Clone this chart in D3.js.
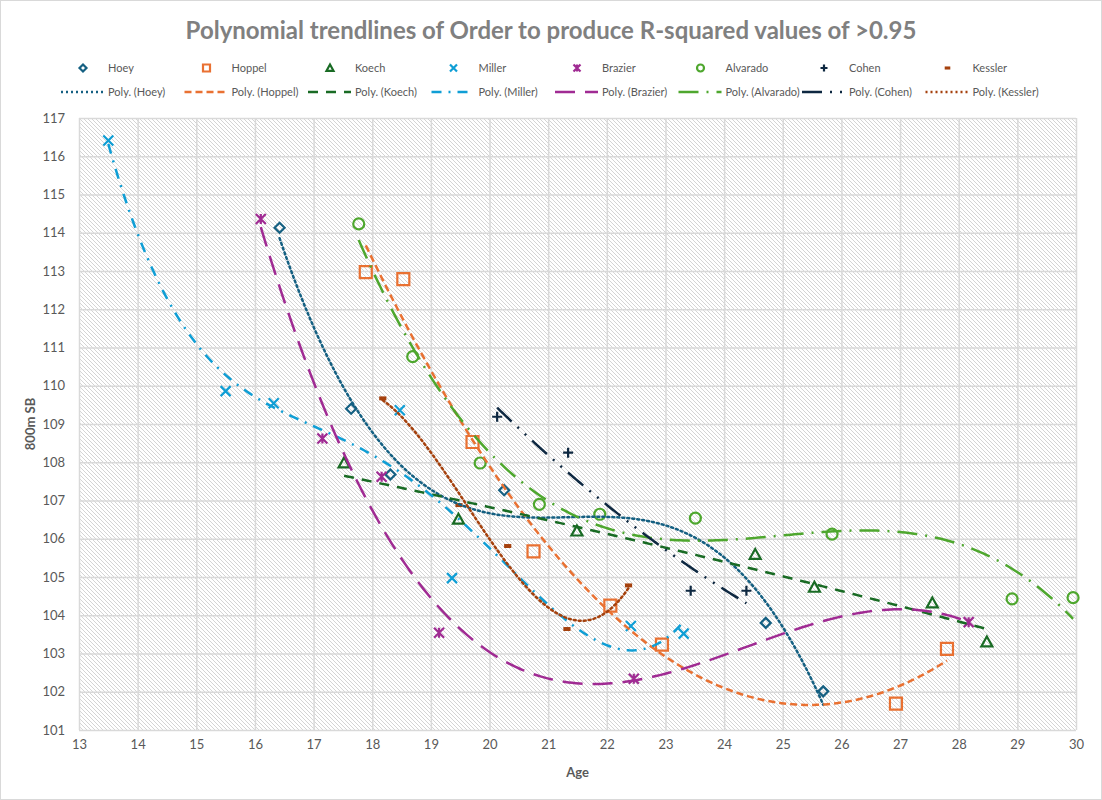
<!DOCTYPE html>
<html>
<head>
<meta charset="utf-8">
<script src="https://cdn.jsdelivr.net/npm/d3@7"></script>
<style>
  body { margin: 0; background: #fff; }
  text { font-family: Lato, "Open Sans", sans-serif; fill: #595959; }
</style>
</head>
<body>
<div id="chart-area"></div>
<script>
// Age vs 800m season best, one polynomial trendline per athlete

var athletes = ["Hoey", "Hoppel", "Koech", "Miller", "Brazier", "Alvarado", "Cohen", "Kessler"];

// [age, 800m SB]
var hoey = [[16.42, 114.13], [17.64, 109.40], [18.31, 107.68], [20.25, 107.27], [24.71, 103.80], [25.69, 102.01]];
var hoppel = [[17.89, 112.97], [18.53, 112.79], [19.71, 108.53], [20.75, 105.67], [22.06, 104.25], [22.94, 103.23], [26.93, 101.69], [27.80, 103.12]];
var koech = [[17.52, 107.98], [19.47, 106.51], [21.49, 106.20], [24.53, 105.59], [25.54, 104.73], [27.55, 104.32], [28.48, 103.30]];
var miller = [[13.50, 116.41], [15.50, 109.86], [16.32, 109.54], [18.47, 109.36], [19.36, 104.97], [22.41, 103.72], [23.31, 103.52]];
var brazier = [[16.10, 114.36], [17.15, 108.62], [18.16, 107.62], [19.14, 103.54], [22.46, 102.34], [28.17, 103.82]];
var alvarado = [[17.77, 114.23], [18.69, 110.76], [19.84, 107.98], [20.85, 106.90], [21.88, 106.64], [23.51, 106.54], [25.84, 106.12], [28.91, 104.43], [29.95, 104.46]];
var cohen = [[20.13, 109.19], [21.34, 108.25], [23.43, 104.64], [24.38, 104.64]];
var kessler = [[18.18, 109.67], [19.48, 106.88], [20.31, 105.81], [21.32, 103.64], [22.37, 104.78]];

var seriesData = [hoey, hoppel, koech, miller, brazier, alvarado, cohen, kessler];
var trendOrders = [3, 2, 2, 4, 3, 3, 2, 3];

var xTicks = d3.range(13, 31);
var yTicks = d3.range(101, 118);

var colors = ["#156082", "#E97132", "#196B24", "#0F9ED5", "#A02B93", "#4EA72E", "#0E2841", "#A5410D"];
var markers = ["diamond", "square", "triangle", "cross", "star", "circle", "plus", "dash"];
var dashes = ["2 3", "7 4", "10 8", "10 7 2 7", "20 10", "20 8 2 8", "20 8 2 8 2 8", "2 3"];

var W = 1102, H = 800;
var margin = {top: 118, left: 79, bottom: 70, right: 26};
var width = W - margin.left - margin.right,
    height = H - margin.top - margin.bottom;

var svg = d3.select("#chart-area")
    .append("svg")
        .attr("width", W)
        .attr("height", H);

svg.append("rect")
    .attr("x", 0.5).attr("y", 0.5)
    .attr("width", W - 1).attr("height", H - 1)
    .attr("fill", "#fff")
    .attr("stroke", "#D9D9D9");

// hatched plot background
var pat = svg.append("defs").append("pattern")
    .attr("id", "hatch")
    .attr("patternUnits", "userSpaceOnUse")
    .attr("width", 4).attr("height", 4);
pat.append("rect").attr("width", 4).attr("height", 4).attr("fill", "#fff");
pat.append("path")
    .attr("d", "M0,0 L4,4 M-1,3 L1,5 M3,-1 L5,1")
    .attr("stroke", "#C9C9C9")
    .attr("stroke-width", 0.8);

var g = svg.append("g")
    .attr("transform", "translate(" + margin.left + "," + margin.top + ")");

// Scales
var x = d3.scaleLinear().domain([13, 30]).range([0, width]);
var y = d3.scaleLinear().domain([101, 117]).range([height, 0]);

g.append("rect")
    .attr("width", width).attr("height", height)
    .attr("fill", "url(#hatch)");

// Gridlines
g.append("g")
    .attr("class", "grid")
    .call(d3.axisLeft(y).tickValues(yTicks).tickSize(-width).tickFormat(""))
    .call(s => s.select(".domain").remove())
    .selectAll("line").attr("stroke", "#D9D9D9").attr("stroke-width", 1.5);

g.append("g")
    .attr("class", "grid")
    .attr("transform", "translate(0," + height + ")")
    .call(d3.axisBottom(x).tickValues(xTicks).tickSize(-height).tickFormat(""))
    .call(s => s.select(".domain").remove())
    .selectAll("line").attr("stroke", "#D9D9D9").attr("stroke-width", 1.5);

// Axes labels
var yAxis = g.append("g")
    .call(d3.axisLeft(y).tickValues(yTicks).tickSize(0).tickPadding(14).tickFormat(d3.format("d")));
yAxis.select(".domain").remove();
yAxis.selectAll("text").attr("font-size", "13px").attr("fill", "#595959")
    .style("font-family", "Lato, sans-serif");

var xAxis = g.append("g")
    .attr("transform", "translate(0," + height + ")")
    .call(d3.axisBottom(x).tickValues(xTicks).tickSize(0).tickPadding(10).tickFormat(d3.format("d")));
xAxis.select(".domain").remove();
xAxis.selectAll("text").attr("font-size", "13px").attr("fill", "#595959")
    .style("font-family", "Lato, sans-serif");

svg.append("text")
    .attr("x", margin.left + width / 2)
    .attr("y", 777)
    .attr("text-anchor", "middle")
    .attr("font-size", "13px")
    .attr("font-weight", "bold")
    .text("Age");

svg.append("text")
    .attr("transform", "translate(35," + 424 + ") rotate(-90)")
    .attr("text-anchor", "middle")
    .attr("font-size", "13px")
    .attr("font-weight", "bold")
    .text("800m SB");

svg.append("text")
    .attr("x", 551)
    .attr("y", 39)
    .attr("text-anchor", "middle")
    .attr("font-size", "24px")
    .attr("font-weight", "bold")
    .style("fill", "#808080")
    .text("Polynomial trendlines of Order to produce R-squared values of >0.95");

// least squares polynomial trendline
function polyfit(pts, order) {
    var xm = d3.mean(pts, d => d[0]);
    var n = order + 1;
    var A = [], b = [];
    for (var i = 0; i < n; i++) {
        A.push(new Array(n).fill(0));
        b.push(0);
    }
    pts.forEach(p => {
        var t = p[0] - xm;
        for (var i = 0; i < n; i++) {
            for (var j = 0; j < n; j++) A[i][j] += Math.pow(t, i + j);
            b[i] += p[1] * Math.pow(t, i);
        }
    });
    // gaussian elimination
    for (var c = 0; c < n; c++) {
        var piv = c;
        for (var r = c + 1; r < n; r++) if (Math.abs(A[r][c]) > Math.abs(A[piv][c])) piv = r;
        [A[c], A[piv]] = [A[piv], A[c]];
        [b[c], b[piv]] = [b[piv], b[c]];
        for (var r = c + 1; r < n; r++) {
            var f = A[r][c] / A[c][c];
            for (var k = c; k < n; k++) A[r][k] -= f * A[c][k];
            b[r] -= f * b[c];
        }
    }
    var coef = new Array(n).fill(0);
    for (var r = n - 1; r >= 0; r--) {
        var s = b[r];
        for (var k = r + 1; k < n; k++) s -= A[r][k] * coef[k];
        coef[r] = s / A[r][r];
    }
    return function(xv) {
        var t = xv - xm, v = 0;
        for (var i = 0; i < n; i++) v += coef[i] * Math.pow(t, i);
        return v;
    };
}

function markerPath(type, s) {
    var h = s / 2;
    switch (type) {
        case "diamond": return "M0," + (-h) + "L" + h + ",0L0," + h + "L" + (-h) + ",0Z";
        case "square": return "M" + (-h) + "," + (-h) + "h" + s + "v" + s + "h" + (-s) + "Z";
        case "triangle": return "M0," + (-h) + "L" + h + "," + (h * 0.8) + "L" + (-h) + "," + (h * 0.8) + "Z";
        case "cross": return "M" + (-h) + "," + (-h) + "L" + h + "," + h + "M" + h + "," + (-h) + "L" + (-h) + "," + h;
        case "plus": return "M" + (-h) + ",0H" + h + "M0," + (-h) + "V" + h;
        case "star": return "M" + (-h) + "," + (-h) + "L" + h + "," + h + "M" + h + "," + (-h) + "L" + (-h) + "," + h + "M0," + (-h) + "V" + h;
        case "circle": return d3.symbol(d3.symbolCircle, Math.PI * h * h)();
    }
}

function drawMarker(sel, type, color, s) {
    if (type === "dash") {
        sel.append("rect")
            .attr("x", -s * 0.4).attr("y", -s * 0.22)
            .attr("width", s * 0.8).attr("height", s * 0.44)
            .attr("fill", color);
    } else {
        sel.append("path")
            .attr("d", markerPath(type, s))
            .attr("fill", "none")
            .attr("stroke", color)
            .attr("stroke-width", 2.2);
    }
}

var line = d3.line()
    .x(d => x(d[0]))
    .y(d => y(d[1]));

// markers then trendlines (Excel draws trendlines on top)
seriesData.forEach((pts, i) => {
    var sizes = {diamond: 10, square: 12, triangle: 11, cross: 10, star: 10, circle: 11, plus: 10, dash: 9};
    pts.forEach(p => {
        var m = g.append("g").attr("transform", "translate(" + x(p[0]) + "," + y(p[1]) + ")");
        drawMarker(m, markers[i], colors[i], sizes[markers[i]]);
    });
});

seriesData.forEach((pts, i) => {
    var f = polyfit(pts, trendOrders[i]);
    var ext = d3.extent(pts, d => d[0]);
    var samples = d3.range(0, 201).map(k => {
        var xv = ext[0] + (ext[1] - ext[0]) * k / 200;
        return [xv, f(xv)];
    });
    g.append("path")
        .datum(samples)
        .attr("d", line)
        .attr("fill", "none")
        .attr("stroke", colors[i])
        .attr("stroke-width", 2.5)
        .attr("stroke-dasharray", dashes[i])
        .attr("stroke-linecap", dashes[i] === "2 3" ? "round" : "butt");
});

// Legend
var legend = svg.append("g");
athletes.forEach((name, i) => {
    var lx = 61 + i * 123.5;
    var m = legend.append("g").attr("transform", "translate(" + (lx + 22) + ",68)");
    drawMarker(m, markers[i], colors[i], 7);
    legend.append("text")
        .attr("x", lx + 47).attr("y", 72)
        .attr("font-size", "11px")
        .text(name);

    legend.append("line")
        .attr("x1", lx).attr("x2", lx + 43)
        .attr("y1", 92).attr("y2", 92)
        .attr("stroke", colors[i])
        .attr("stroke-width", 2.5)
        .attr("stroke-dasharray", dashes[i]);
    legend.append("text")
        .attr("x", lx + 47).attr("y", 96)
        .attr("font-size", "11px")
        .text("Poly. (" + name + ")");
});
</script>
</body>
</html>
